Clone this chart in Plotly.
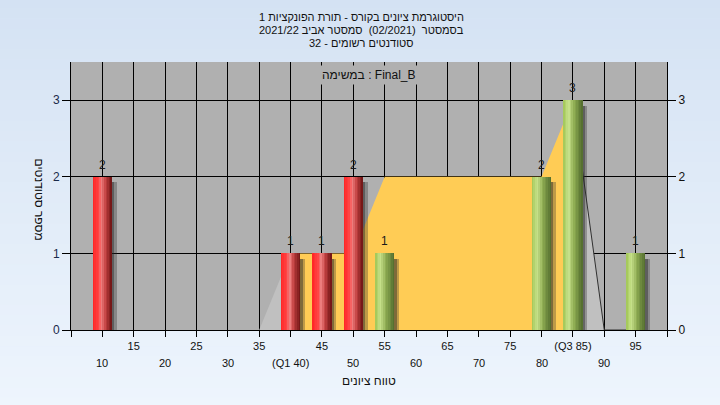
import plotly.graph_objects as go

# ---------------- data ----------------
categories = [10, 15, 20, 25, 30, 35, 40, 45, 50, 55, 60, 65, 70, 75, 80, 85, 90, 95]
counts = [2, 0, 0, 0, 0, 0, 1, 1, 2, 1, 0, 0, 0, 0, 2, 3, 0, 1]
tick_labels = ["10", "15", "20", "25", "30", "35", "(Q1 40)", "45", "50", "55",
               "60", "65", "70", "75", "80", "(Q3 85)", "90", "95"]
area_x = [35, 40, 45, 50, 55, 60, 65, 70, 75, 80, 85, 90, 95]
area_y = [0, 1, 1, 1, 2, 2, 2, 2, 2, 2, 3, 0, 0]
q1 = 40
q3 = 85
pass_mark = 55
y_ticks = [0, 1, 2, 3]
title_lines = ["היסטוגרמת ציונים בקורס - תורת הפונקציות 1",
               "בסמסטר  (02/2021)  סמסטר אביב 2021/22",
               "סטודנטים רשומים - 32"]
task_label = "במשימה : Final_B"
x_title = "טווח ציונים"
y_title = "מספר סטודנטים"

# ---------------- style ----------------
FONT = "Liberation Sans, Arial, DejaVu Sans, sans-serif"
X_MIN, X_MAX = 5, 100
Y_MAX = 3.5
BAR_W = 3.1
N_SLICES = 12
PLOT_BG = "#b0b0b0"
AREA_GRAY = "#c0c0c0"
AREA_YELLOW = "#ffcc55"


def interp(stops, t):
    for (t0, c0), (t1, c1) in zip(stops[:-1], stops[1:]):
        if t0 <= t <= t1:
            f = (t - t0) / (t1 - t0) if t1 > t0 else 0
            return tuple(int(round(a + (b - a) * f)) for a, b in zip(c0, c1))
    return stops[-1][1]


red_stops = [(0, (255, 35, 35)), (0.3, (255, 70, 70)), (0.45, (238, 128, 128)),
             (0.65, (196, 66, 66)), (1.0, (108, 18, 18))]
green_stops = [(0, (160, 198, 84)), (0.28, (200, 226, 140)), (0.55, (142, 172, 82)),
               (1.0, (80, 106, 44))]

fig = go.Figure()

# ---------------- background shapes ----------------
shapes = []
top_c = (212, 226, 243)
bot_c = (238, 245, 253)
NB = 40
py_top, py_bot = 1.24, -0.29
for k in range(NB):
    f = (k + 0.5) / NB
    col = tuple(int(round(a + (b - a) * f)) for a, b in zip(top_c, bot_c))
    y1 = py_top + (py_bot - py_top) * k / NB
    y0 = py_top + (py_bot - py_top) * (k + 1) / NB
    shapes.append(dict(type="rect", xref="paper", yref="paper", x0=-0.2, x1=1.2, y0=y0 - 0.002, y1=y1,
                       fillcolor="rgb(%d,%d,%d)" % col, line=dict(width=0), layer="below"))
shapes.append(dict(type="rect", xref="paper", yref="paper", x0=0, x1=1, y0=0, y1=1,
                   fillcolor=PLOT_BG, line=dict(width=0), layer="below"))


# ---------------- IQR area (between grid and traces) ----------------
def area_path(idx):
    pts = [(area_x[i], area_y[i]) for i in idx]
    p = "M %g,0" % pts[0][0]
    for x, y in pts:
        p += " L %g,%g" % (x, y)
    p += " L %g,0 Z" % pts[-1][0]
    return p


left_idx = [i for i, x in enumerate(area_x) if x <= q1]
mid_idx = [i for i, x in enumerate(area_x) if q1 <= x <= q3]
right_idx = [i for i, x in enumerate(area_x) if x >= q3]

for idx, col in [(left_idx, AREA_GRAY), (mid_idx, AREA_YELLOW), (right_idx, AREA_GRAY)]:
    shapes.append(dict(type="path", xref="x", yref="y", path=area_path(idx),
                       fillcolor=col, line=dict(width=0), layer="between"))
edge = "M " + " L ".join("%g,%g" % (area_x[i], area_y[i]) for i in right_idx)
shapes.append(dict(type="path", xref="x", yref="y", path=edge,
                   line=dict(width=1, color="#303030"), layer="between"))

# ---------------- bar shadows ----------------
shadow_h = [max(c - 0.07, 0) for c in counts]
fig.add_trace(go.Bar(x=categories, y=shadow_h, width=0.45, offset=BAR_W / 2 - 0.1,
                     marker=dict(color="rgba(40,40,40,0.6)", line=dict(width=0)),
                     hoverinfo="skip", showlegend=False))
fig.add_trace(go.Bar(x=categories, y=shadow_h, width=0.4, offset=BAR_W / 2 + 0.35,
                     marker=dict(color="rgba(40,40,40,0.3)", line=dict(width=0)),
                     hoverinfo="skip", showlegend=False))

# ---------------- cylinder-like bars ----------------
for i in range(N_SLICES):
    t = (i + 0.5) / N_SLICES
    rc = "rgb(%d,%d,%d)" % interp(red_stops, t)
    gc = "rgb(%d,%d,%d)" % interp(green_stops, t)
    colors = [rc if c < pass_mark else gc for c in categories]
    off = -BAR_W / 2 + i * BAR_W / N_SLICES
    fig.add_trace(go.Bar(x=categories, y=counts, width=BAR_W - i * BAR_W / N_SLICES, offset=off,
                         marker=dict(color=colors, line=dict(width=0)),
                         hoverinfo="skip", showlegend=False))

# invisible trace on right axis
fig.add_trace(go.Scatter(x=categories, y=counts, yaxis="y2", mode="markers",
                         marker=dict(opacity=0), hoverinfo="skip", showlegend=False))

# ---------------- annotations ----------------
ann = []
for c, v in zip(categories, counts):
    if v > 0:
        ann.append(dict(x=c, y=v, xref="x", yref="y", text=str(v), showarrow=False,
                        yanchor="bottom", yshift=3, font=dict(family=FONT, size=12, color="#1a1a1a")))

for k, (c, lab) in enumerate(zip(categories, tick_labels)):
    if k % 2 == 0:
        ann.append(dict(x=c, y=-0.123, xref="x", yref="paper", text=lab, showarrow=False,
                        yanchor="middle", font=dict(family=FONT, size=11, color="#111")))

title_y = [1.168, 1.119, 1.071]
for line, yy in zip(title_lines, title_y):
    ann.append(dict(x=0.487, y=yy, xref="paper", yref="paper", text=line, showarrow=False,
                    yanchor="middle", xanchor="center", font=dict(family=FONT, size=11, color="#111")))

ann.append(dict(x=0.5, y=0.951, xref="paper", yref="paper", text=task_label, showarrow=False,
                yanchor="middle", xanchor="center", bgcolor=PLOT_BG, borderpad=2,
                font=dict(family=FONT, size=12, color="#111")))
ann.append(dict(x=0.5, y=-0.19, xref="paper", yref="paper", text=x_title, showarrow=False,
                yanchor="middle", xanchor="center", font=dict(family=FONT, size=12, color="#111")))
ann.append(dict(x=-0.053, y=0.485, xref="paper", yref="paper", text=y_title, showarrow=False,
                textangle=90, yanchor="middle", xanchor="center",
                font=dict(family=FONT, size=12, color="#111")))

# ---------------- x ticks ----------------
x_tickvals = [X_MIN] + categories + [X_MAX]
x_ticktext = [""] + [lab if k % 2 == 1 else "" for k, lab in enumerate(tick_labels)] + [""]

fig.update_layout(
    width=720, height=405,
    margin=dict(l=71, r=53, t=62, b=75),
    paper_bgcolor="#e2ecf8",
    plot_bgcolor="rgba(0,0,0,0)",
    barmode="overlay",
    bargap=0,
    hovermode=False,
    showlegend=False,
    font=dict(family=FONT, size=12, color="#111"),
    annotations=ann,
    shapes=shapes,
    xaxis=dict(range=[X_MIN, X_MAX], tickmode="array", tickvals=x_tickvals, ticktext=x_ticktext,
               showgrid=True, gridcolor="#000", gridwidth=1, zeroline=False,
               showline=True, linecolor="#000", linewidth=1,
               ticks="outside", ticklen=6, tickcolor="#000",
               tickfont=dict(family=FONT, size=11, color="#111")),
    yaxis=dict(range=[0, Y_MAX], tickmode="array", tickvals=y_ticks,
               showgrid=True, gridcolor="#000", gridwidth=1, zeroline=False,
               showline=True, linecolor="#000", linewidth=1,
               ticks="outside", ticklen=8, tickcolor="#000",
               tickfont=dict(family=FONT, size=12, color="#1a2a4a")),
    yaxis2=dict(range=[0, Y_MAX], tickmode="array", tickvals=y_ticks, overlaying="y", side="right",
                showgrid=False, zeroline=False, showline=True, linecolor="#000", linewidth=1,
                ticks="outside", ticklen=8, tickcolor="#000",
                tickfont=dict(family=FONT, size=12, color="#111")),
)

post = "document.body.style.margin='0';document.body.style.padding='0';"
fig.write_html("out.html", post_script=post,
               config={"displayModeBar": False, "staticPlot": True, "responsive": False})
